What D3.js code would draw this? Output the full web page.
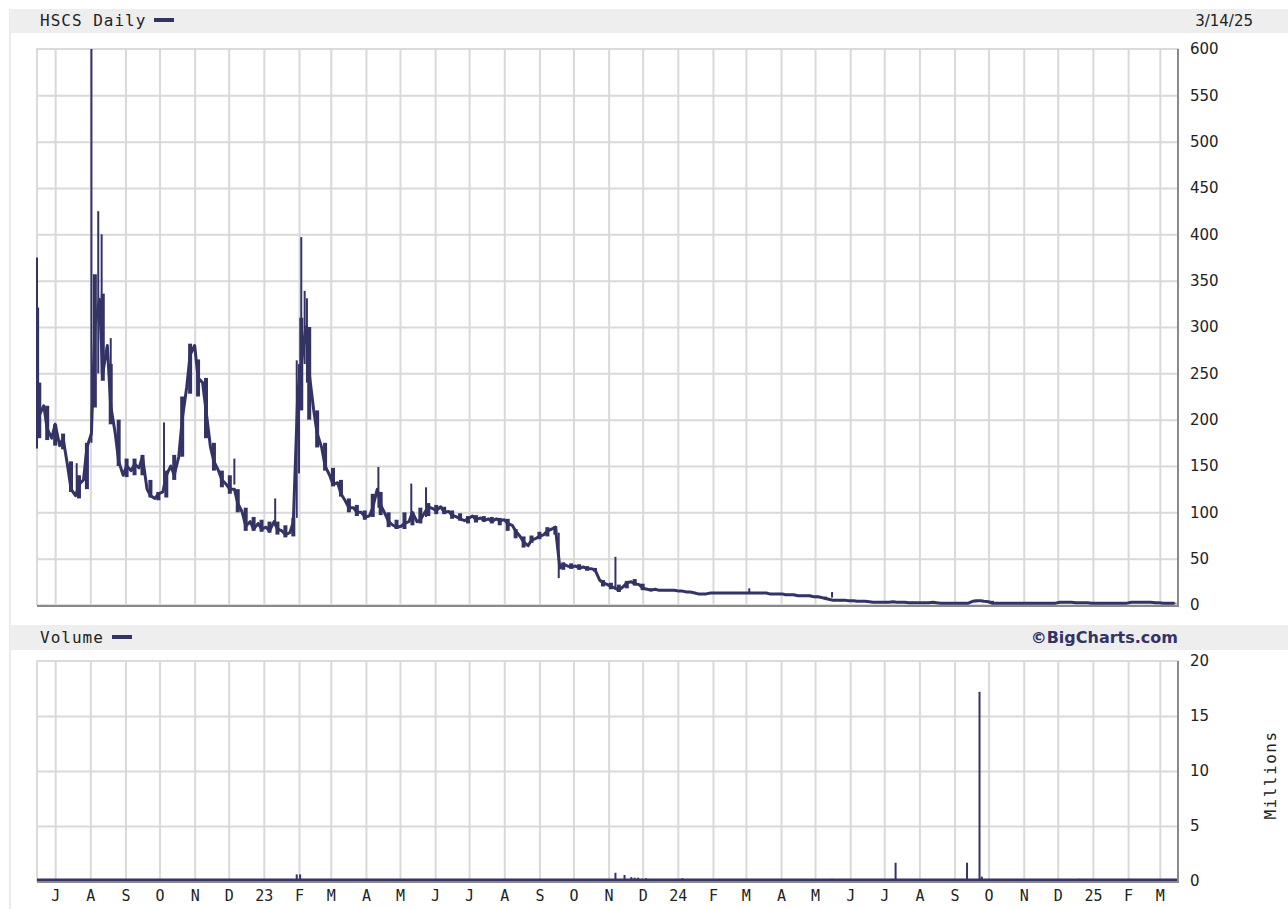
<!DOCTYPE html>
<html>
<head>
<meta charset="utf-8">
<script src="https://cdn.jsdelivr.net/npm/d3@7"></script>
<style>
  body { margin: 0; background: #fff; }
</style>
</head>
<body>
<svg width="1288" height="909"></svg>
<script>
// closes read twice a week (Tuesdays and Fridays), 6/17/22 to 3/14/25
const firstDay = new Date(2022, 5, 17);
const lastDay = new Date(2025, 2, 14);

const closes = [
  205,
  215,190, 180,195, 172,180, 150,125, 118,130, 135,170, 185,300, 330,250, 280,215, 185,155,
  140,150, 145,152, 148,160, 125,118, 115,120, 122,140, 150,140, 160,200, 235,270, 280,245,
  240,210, 170,155, 145,135, 130,125, 125,110, 100,85, 90,82, 88,82, 84,80, 90,82,
  80,76, 78,90, 230,260, 300,250, 210,185, 170,150, 140,130, 132,120, 112,105, 105,100,
  100,95, 96,105, 125,108, 98,90, 86,84, 85,88, 90,100, 90,92, 100,106, 104,102,
  106,100, 101,97, 95,93, 91,93, 96,92, 94,91, 93,90, 93,91, 92,88, 86,80,
  74,68, 64,70, 72,74, 76,80, 82,84, 40,44, 42,41, 42,40, 41,39, 39,38,
  27,24, 22,20, 18,16, 20,24, 25,23, 22,18, 17,16, 17,16, 16,16, 16,16,
  15,15, 14,14, 13,12, 12,12, 13,13, 13,13, 13,13, 13,13, 13,13, 13,13,
  13,13, 13,12, 12,12, 12,11, 11,11, 10,10, 10,10, 9,9, 8,7, 6,5,
  5,5, 5,4.5, 4.5,4, 4,4, 3.5,3, 3,3, 3,3, 3.5,3, 3,3, 2.5,2.5,
  2.5,2.5, 2.5,2.5, 3,2.5, 2,2, 2,2, 2,2, 2,2, 4,4.5, 4.5,4, 3.5,2,
  2,2, 2,2, 2,2, 2,2, 2,2, 2,2, 2,2, 2,2, 3,3, 3,3,
  2.5,2.5, 2.5,2.5, 2,2, 2,2, 2,2, 2,2, 2,2, 3,3, 3,3, 3,3,
  2.5,2.5, 2,2, 2,2];

// weekly range of the daily closes (one pair per Friday)
const weekHigh = [240,215,195,185,155,140,175,357,336,260,200,158,158,162,135,122,145,162,225,282,
  265,245,175,145,140,125,105,95,92,90,90,86,94,310,300,210,175,148,135,115,
  108,102,120,122,100,92,100,100,105,110,108,106,102,99,96,97,96,95,94,93,
  82,74,75,79,84,85,46,45,44,42,40,27,24,22,26,28,23,18,17,17,
  17,16,15,13,13,14,14,14,14,14,14,14,13,13,12,12,11,11,10,9,
  6,6,5,5,4.5,4,3.5,3.5,4,3.5,3.5,3,3,3.5,2.5,2.5,2.5,2.5,5,5,
  4.5,2.5,2.5,2.5,2.5,2.5,2.5,2.5,2.5,3.5,3.5,3,3,2.5,2.5,2.5,2.5,2.5,3.5,3.5,
  3.5,3,2.5,2.5];
const weekLow = [180,178,172,168,122,115,125,213,242,195,150,138,140,140,116,113,116,135,160,228,
  225,180,145,127,120,100,80,80,79,78,76,73,74,210,200,170,145,128,117,100,
  96,92,95,97,84,82,82,86,88,96,98,98,93,91,88,89,90,88,86,80,
  72,62,67,71,74,76,38,39,38,37,36,20,17,14,18,21,16,15,15,15,
  15,14,13,11,12,12,12,12,12,12,12,12,12,11,11,10,9,9,8,7,
  5,4,4,4,3.5,3,2.5,2.5,2.5,2.5,2,2,2,2,1.5,1.5,1.5,1.5,3,3.5,
  2,1.5,1.5,1.5,1.5,1.5,1.5,1.5,1.5,2.5,2.5,2,2,1.5,1.5,1.5,1.5,1.5,2.5,2.5,
  2.5,2,1.5,1.5];

// single-day moves outside those reads
const spikeDates = ["2022-06-15","2022-06-16","2022-07-20","2022-08-02","2022-08-08","2022-08-11",
  "2022-08-19","2022-10-05","2022-12-06","2023-01-11","2023-01-30","2023-02-01","2023-02-03",
  "2023-02-06","2023-02-08","2023-04-12","2023-05-11","2023-05-24","2023-09-18","2023-11-07",
  "2024-03-04","2024-05-16"];
const spikeLow = [169,232,125,175,250,250,200,125,130,85,94,142,300,260,240,105,92,95,29,18,13,8];
const spikeHigh = [375,321,153,600,425,400,288,197,158,115,264,260,397,339,331,149,131,127,78,52,18,14];

// daily volume spikes, millions (the rest of the days sit on the baseline)
const volDates = ["2023-01-30","2023-02-02","2023-11-07","2023-11-15","2023-11-21","2023-11-24",
  "2023-11-27","2023-12-04","2024-01-05","2024-05-16","2024-07-11","2024-09-12","2024-09-23",
  "2024-09-25","2024-12-20"];
const volValues = [0.6,0.6,0.75,0.55,0.35,0.3,0.3,0.25,0.25,0.2,1.66,1.66,17.2,0.4,0.2];

const priceTicks = [0,50,100,150,200,250,300,350,400,450,500,550,600];
const volTicks = [0,5,10,15,20];

const navy = "#333366";
const grid = "#d9d9d9";

const svg = d3.select("svg");
const left = 37, right = 1178;
const pTop = 49, pBottom = 605;
const vTop = 661, vBottom = 881;

const x = d3.scaleTime()
  .domain([new Date(2022, 5, 15), new Date(2025, 2, 17)])
  .range([left, right]);
const y = d3.scaleLinear().domain([0, 600]).range([pBottom, pTop]);
const yv = d3.scaleLinear().domain([0, 20]).range([vBottom, vTop]);
const parse = d3.timeParse("%Y-%m-%d");

const closeDates = d3.timeDays(firstDay, d3.timeDay.offset(lastDay, 1))
  .filter(d => d.getDay() === 2 || d.getDay() === 5);
const weeks = closeDates.filter(d => d.getDay() === 5);
const months = d3.timeMonth.range(new Date(2022, 6, 1), new Date(2025, 2, 2));
const monthLabel = d => d.getMonth() === 0 ? d3.timeFormat("%y")(d) : d3.timeFormat("%b")(d)[0];

// header bands and outer border
svg.append("line").attr("x1", 10).attr("x2", 10).attr("y1", 9).attr("y2", 909)
  .attr("stroke", "#e4e4e4").attr("stroke-width", 1.5);
[[9, 33], [625, 650]].forEach(([a, b]) => {
  svg.append("rect").attr("x", 10).attr("y", a).attr("width", 1278).attr("height", b - a)
    .attr("fill", "#eeeeee");
});

const mono = "'DejaVu Sans Mono', monospace";
const sans = "'DejaVu Sans', Verdana, sans-serif";

svg.append("text").attr("x", 40).attr("y", 26).attr("font-family", mono).attr("font-size", 16)
  .attr("letter-spacing", 1).attr("fill", "#222").text("HSCS Daily");
svg.append("rect").attr("x", 154).attr("y", 18).attr("width", 20).attr("height", 4).attr("fill", navy);
svg.append("text").attr("x", 1253).attr("y", 26).attr("text-anchor", "end").attr("font-family", sans)
  .attr("font-size", 15).attr("fill", "#222").text("3/14/25");

svg.append("text").attr("x", 40).attr("y", 643).attr("font-family", mono).attr("font-size", 16)
  .attr("letter-spacing", 1).attr("fill", "#222").text("Volume");
svg.append("rect").attr("x", 112).attr("y", 635).attr("width", 20).attr("height", 4).attr("fill", navy);
svg.append("text").attr("x", 1178).attr("y", 643).attr("text-anchor", "end").attr("font-family", sans)
  .attr("font-size", 16).attr("font-weight", "bold").attr("fill", navy).text("\u00a9BigCharts.com");

function panel(top, bottom, yScale, ticks) {
  const g = svg.append("g");
  g.append("rect").attr("x", left).attr("y", top).attr("width", right - left).attr("height", bottom - top)
    .attr("fill", "#fff").attr("stroke", "#d0d0d0").attr("stroke-width", 1.5);
  g.append("g").attr("transform", `translate(0,${bottom})`)
    .call(d3.axisBottom(x).tickValues(months).tickSize(-(bottom - top)).tickFormat(""))
    .call(a => a.select(".domain").remove())
    .call(a => a.selectAll("line").attr("stroke", grid).attr("stroke-width", 2));
  g.append("g").attr("transform", `translate(${left},0)`)
    .call(d3.axisRight(yScale).tickValues(ticks.slice(1, -1)).tickSize(right - left).tickFormat(""))
    .call(a => a.select(".domain").remove())
    .call(a => a.selectAll("line").attr("stroke", grid).attr("stroke-width", 2));
  g.append("g").attr("transform", `translate(${right + 12},0)`)
    .call(d3.axisRight(yScale).tickValues(ticks).tickSize(0).tickPadding(0))
    .call(a => a.select(".domain").remove())
    .call(a => a.selectAll("text").attr("font-family", sans).attr("font-size", 15).attr("fill", "#222"));
  return g;
}

const pg = panel(pTop, pBottom, y, priceTicks);
const vg = panel(vTop, vBottom, yv, volTicks);

// price: weekly ranges, the close line, single-day spikes
pg.append("g").selectAll("line").data(weeks).join("line")
  .attr("x1", d => x(d)).attr("x2", d => x(d))
  .attr("y1", (d, i) => y(weekLow[i])).attr("y2", (d, i) => y(weekHigh[i]))
  .attr("stroke", navy).attr("stroke-width", 4);
pg.append("path")
  .datum(closeDates)
  .attr("fill", "none").attr("stroke", navy).attr("stroke-width", 3).attr("stroke-linejoin", "round")
  .attr("d", d3.line().x(d => x(d)).y((d, i) => y(closes[i])));
pg.append("g").selectAll("line").data(spikeDates).join("line")
  .attr("x1", d => x(parse(d))).attr("x2", d => x(parse(d)))
  .attr("y1", (d, i) => y(spikeLow[i])).attr("y2", (d, i) => y(spikeHigh[i]))
  .attr("stroke", navy).attr("stroke-width", 2);

// volume bars
vg.append("line").attr("x1", left).attr("x2", right).attr("y1", vBottom - 1).attr("y2", vBottom - 1)
  .attr("stroke", navy).attr("stroke-width", 3);
vg.append("g").selectAll("line").data(volDates).join("line")
  .attr("x1", d => x(parse(d))).attr("x2", d => x(parse(d)))
  .attr("y1", yv(0)).attr("y2", (d, i) => yv(volValues[i]))
  .attr("stroke", navy).attr("stroke-width", 2);

// frame shadow on right and bottom
[[pTop, pBottom], [vTop, vBottom]].forEach(([t, b]) => {
  svg.append("path").attr("d", `M${right},${t}V${b + 1}H${left}`)
    .attr("fill", "none").attr("stroke", "#8a8a8a").attr("stroke-width", 2);
});

// month labels
svg.append("g").attr("transform", `translate(0,${vBottom + 6})`)
  .call(d3.axisBottom(x).tickValues(months).tickSize(0).tickPadding(3).tickFormat(monthLabel))
  .call(a => a.select(".domain").remove())
  .call(a => a.selectAll("text").attr("font-family", mono).attr("font-size", 15).attr("fill", "#222"));

svg.append("text").attr("transform", "translate(1276,775) rotate(-90)").attr("text-anchor", "middle")
  .attr("font-family", mono).attr("font-size", 16).attr("letter-spacing", 1.5)
  .attr("fill", "#222").text("Millions");
</script>
</body>
</html>
